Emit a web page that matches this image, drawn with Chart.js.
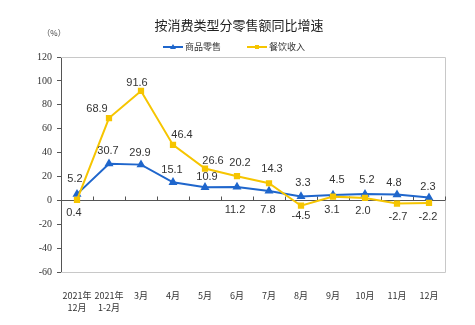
<!DOCTYPE html>
<html>
<head>
<meta charset="utf-8">
<script src="https://cdn.jsdelivr.net/npm/chart.js@4"></script>
<style>
  html, body { margin: 0; padding: 0; background: #fff; }
  #wrap { width: 475px; height: 325px; }
</style>
</head>
<body>
<div id="wrap"><canvas id="c" width="475" height="325"></canvas></div>
<script>
// Categories (months) and year-on-year growth, %
const categories = [
  ['2021年', '12月'], ['2021年', '1-2月'], '3月', '4月', '5月', '6月',
  '7月', '8月', '9月', '10月', '11月', '12月'
];
const retailGoods = [5.2, 30.7, 29.9, 15.1, 10.9, 11.2, 7.8, 3.3, 4.5, 5.2, 4.8, 2.3];
const cateringIncome = [0.4, 68.9, 91.6, 46.4, 26.6, 20.2, 14.3, -4.5, 3.1, 2.0, -2.7, -2.2];
const yTicks = [-60, -40, -20, 0, 20, 40, 60, 80, 100, 120];

const titleText = '按消费类型分零售额同比增速';
const unitText = '（%）';
const seriesNames = ['商品零售', '餐饮收入'];

// Value-label placement relative to each point (pixels)
const goodsLabelOffset = [[-2,-15],[-1,-13],[-1,-12],[-1,-12],[2,-10],[-2,23],[-1,19],[2,-13],[4,-15],[2,-14],[-3,-12],[-1,-11]];
const cateringLabelOffset = [[-3,13],[-12,-9],[-4,-8],[9,-10],[8,-8],[3,-13],[3,-14],[0,10],[-1,13],[-2,13],[1,13],[-1,14]];

const BLUE = '#1F66CC';
const YELLOW = '#F6C500';
const CJK = '"Noto Sans CJK SC", "Liberation Sans", sans-serif';

const framePlugin = {
  id: 'frame',
  beforeDatasetsDraw(chart) {
    const { ctx, chartArea: a, scales } = chart;
    ctx.save();
    // light frame around plot
    ctx.strokeStyle = '#c8c8c8';
    ctx.lineWidth = 1;
    ctx.beginPath();
    ctx.moveTo(a.left, a.top + 0.5);
    ctx.lineTo(a.right + 0.5, a.top + 0.5);
    ctx.lineTo(a.right + 0.5, a.bottom + 0.5);
    ctx.lineTo(a.left, a.bottom + 0.5);
    ctx.stroke();
    // zero line with category separators
    const y0 = Math.round(scales.y.getPixelForValue(0)) + 0.5;
    ctx.strokeStyle = '#555';
    ctx.beginPath();
    ctx.moveTo(a.left, y0);
    ctx.lineTo(a.right, y0);
    const n = categories.length;
    const step = (a.right - a.left) / n;
    for (let i = 1; i <= n; i++) {
      const x = Math.round(a.left + step * i) + 0.5;
      ctx.moveTo(x, y0);
      ctx.lineTo(x, y0 - 4);
    }
    ctx.stroke();
    ctx.restore();
  },
  afterDatasetsDraw(chart) {
    const { ctx } = chart;
    ctx.save();
    ctx.font = '11px "Liberation Sans", Arial, sans-serif';
    ctx.fillStyle = '#333';
    ctx.textAlign = 'center';
    ctx.textBaseline = 'middle';
    const offsets = [goodsLabelOffset, cateringLabelOffset];
    chart.data.datasets.forEach((ds, di) => {
      const meta = chart.getDatasetMeta(di);
      meta.data.forEach((pt, i) => {
        const o = offsets[di][i];
        ctx.fillText(ds.data[i].toFixed(1), pt.x + o[0], pt.y + o[1]);
      });
    });
    ctx.restore();
  },
  afterDraw(chart) {
    const { ctx } = chart;
    ctx.save();
    // title
    ctx.fillStyle = '#222';
    ctx.textAlign = 'center';
    ctx.textBaseline = 'middle';
    ctx.font = '13px ' + CJK;
    ctx.fillText(titleText, 239, 25);
    // unit
    ctx.font = '8px ' + CJK;
    ctx.fillStyle = '#444';
    ctx.fillText(unitText, 54, 33);
    // legend
    const items = [
      { x: 163, color: BLUE, style: 'triangle', name: seriesNames[0] },
      { x: 247, color: YELLOW, style: 'rect', name: seriesNames[1] }
    ];
    const ly = 47;
    items.forEach(it => {
      ctx.strokeStyle = it.color;
      ctx.lineWidth = 2;
      ctx.beginPath();
      ctx.moveTo(it.x, ly);
      ctx.lineTo(it.x + 20, ly);
      ctx.stroke();
      ctx.fillStyle = it.color;
      const cx = it.x + 10;
      if (it.style === 'triangle') {
        ctx.beginPath();
        ctx.moveTo(cx, ly - 3);
        ctx.lineTo(cx + 3, ly + 2);
        ctx.lineTo(cx - 3, ly + 2);
        ctx.closePath();
        ctx.fill();
      } else {
        ctx.fillRect(cx - 2, ly - 2, 4, 4);
      }
      ctx.fillStyle = '#333';
      ctx.textAlign = 'left';
      ctx.font = '9px ' + CJK;
      ctx.fillText(it.name, it.x + 22, ly);
    });
    ctx.restore();
  }
};

new Chart(document.getElementById('c'), {
  type: 'line',
  data: {
    labels: categories,
    datasets: [
      {
        label: seriesNames[0],
        data: retailGoods,
        borderColor: BLUE,
        backgroundColor: BLUE,
        borderWidth: 2,
        pointStyle: 'triangle',
        pointRadius: 3.2,
        tension: 0,
        order: 1
      },
      {
        label: seriesNames[1],
        data: cateringIncome,
        borderColor: YELLOW,
        backgroundColor: YELLOW,
        borderWidth: 2,
        pointStyle: 'rect',
        pointRadius: 3,
        tension: 0,
        order: 0
      }
    ]
  },
  options: {
    responsive: false,
    animation: false,
    devicePixelRatio: 1,
    layout: { padding: { top: 57, right: 30, bottom: 0, left: 0 } },
    plugins: {
      legend: { display: false },
      title: { display: false },
      tooltip: { enabled: false }
    },
    scales: {
      x: {
        type: 'category',
        offset: true,
        grid: { display: false },
        border: { display: false },
        ticks: {
          maxRotation: 0,
          autoSkip: false,
          padding: 10,
          color: '#333',
          font: { family: CJK, size: 9, lineHeight: 1.33 }
        },
        afterFit(s) { s.height = 53; }
      },
      y: {
        min: -60,
        max: 120,
        afterBuildTicks(s) { s.ticks = yTicks.map(v => ({ value: v })); },
        grid: { drawOnChartArea: false, drawTicks: true, tickLength: 4, color: '#555' },
        border: { display: true, color: '#555', width: 1 },
        ticks: {
          padding: 5,
          color: '#333',
          font: { family: '"Liberation Serif", serif', size: 10 }
        },
        afterFit(s) { s.width = 61; }
      }
    }
  },
  plugins: [framePlugin]
});
</script>
</body>
</html>
